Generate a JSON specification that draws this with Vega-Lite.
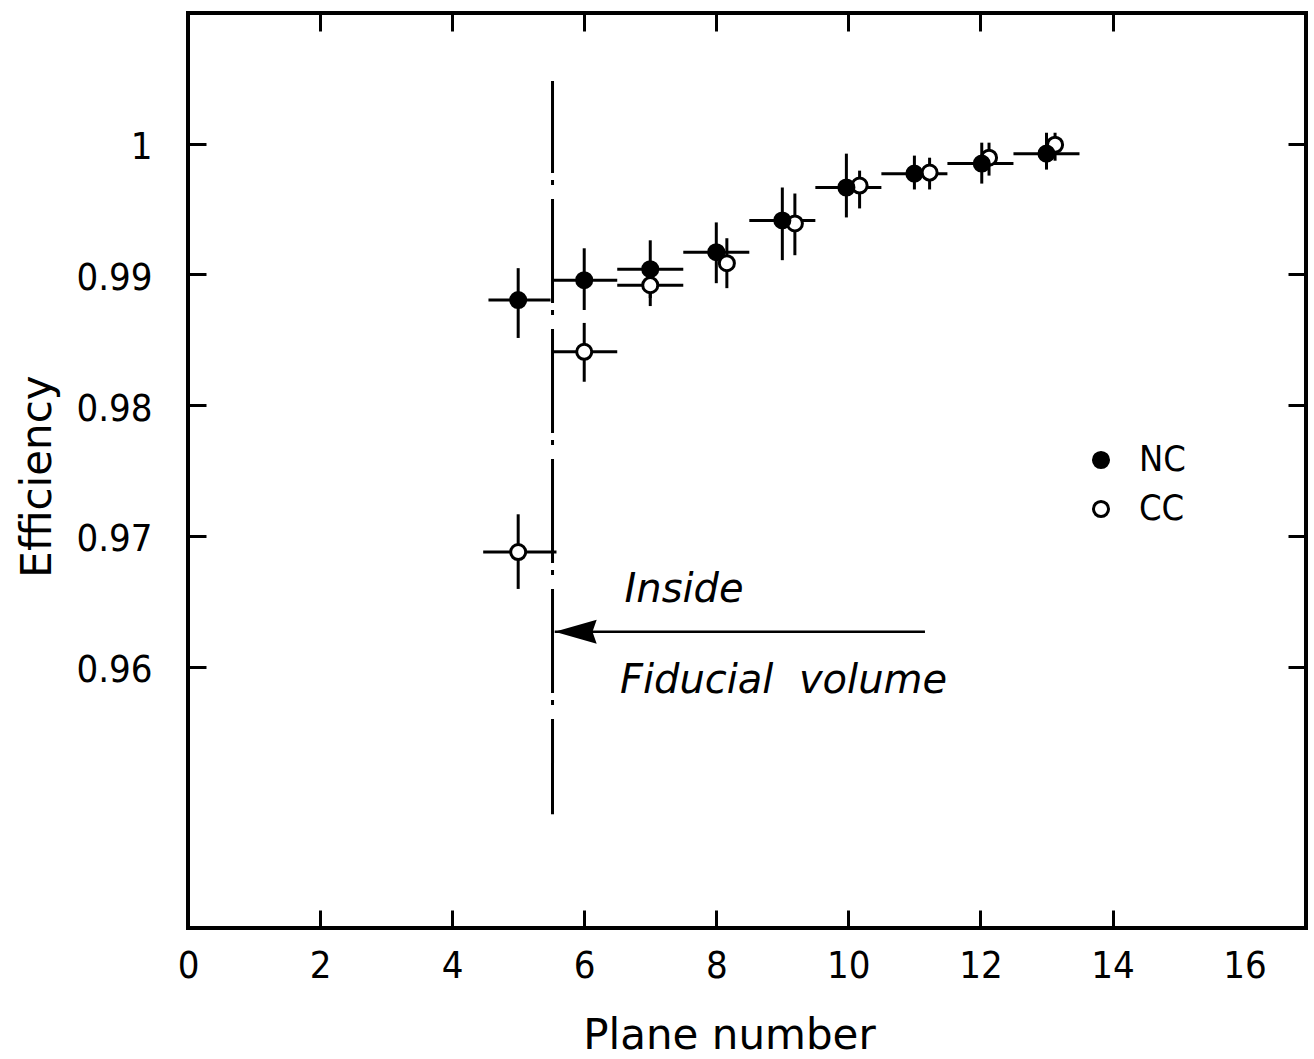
{
  "$schema": "https://vega.github.io/schema/vega-lite/v6.json",
  "width": 1118,
  "height": 915,
  "autosize": {"type": "none"},
  "padding": {"left": 188, "top": 13, "right": 8, "bottom": 131},
  "background": "white",
  "config": {
    "view": {"stroke": "black", "strokeWidth": 4},
    "axis": {
      "domain": false,
      "grid": false,
      "tickColor": "black",
      "tickWidth": 3,
      "tickSize": -18,
      "labelFont": "DejaVu Sans Condensed",
      "labelFontSize": 38,
      "labelColor": "black",
      "labelFlush": false,
      "titleFont": "DejaVu Sans",
      "titleFontSize": 42,
      "titleFontWeight": "normal",
      "titleColor": "black"
    }
  },
  "datasets": {
    "pts": [
      {"series": "CC", "plane": 5, "x": 5.0, "y": 0.96876, "ylo": 0.96594, "yhi": 0.97165, "xlo": 4.47, "xhi": 5.58},
      {"series": "CC", "plane": 6, "x": 6.0, "y": 0.98408, "ylo": 0.98179, "yhi": 0.98629, "xlo": 5.52, "xhi": 6.5},
      {"series": "CC", "plane": 7, "x": 7.0, "y": 0.98918, "ylo": 0.98758, "yhi": 0.99078, "xlo": 6.5, "xhi": 7.5},
      {"series": "CC", "plane": 8, "x": 8.16, "y": 0.99086, "ylo": 0.98895, "yhi": 0.99277, "xlo": null, "xhi": null},
      {"series": "CC", "plane": 9, "x": 9.19, "y": 0.9939, "ylo": 0.99147, "yhi": 0.99619, "xlo": null, "xhi": null},
      {"series": "CC", "plane": 10, "x": 10.17, "y": 0.9968, "ylo": 0.99505, "yhi": 0.99794, "xlo": null, "xhi": null},
      {"series": "CC", "plane": 11, "x": 11.23, "y": 0.99779, "ylo": 0.9965, "yhi": 0.99893, "xlo": null, "xhi": null},
      {"series": "CC", "plane": 12, "x": 12.13, "y": 0.99893, "ylo": 0.99756, "yhi": 1.00008, "xlo": null, "xhi": null},
      {"series": "CC", "plane": 13, "x": 13.13, "y": 0.99992, "ylo": 0.9987, "yhi": 1.00084, "xlo": null, "xhi": null},
      {"series": "NC", "plane": 5, "x": 5.0, "y": 0.98804, "ylo": 0.98514, "yhi": 0.99048, "xlo": 4.55, "xhi": 5.49},
      {"series": "NC", "plane": 6, "x": 6.0, "y": 0.98956, "ylo": 0.98728, "yhi": 0.992, "xlo": 5.52, "xhi": 6.5},
      {"series": "NC", "plane": 7, "x": 7.0, "y": 0.9904, "ylo": 0.98819, "yhi": 0.99261, "xlo": 6.5, "xhi": 7.5},
      {"series": "NC", "plane": 8, "x": 8.0, "y": 0.9917, "ylo": 0.98933, "yhi": 0.99398, "xlo": 7.5, "xhi": 8.5},
      {"series": "NC", "plane": 9, "x": 9.0, "y": 0.99413, "ylo": 0.99109, "yhi": 0.99665, "xlo": 8.5, "xhi": 9.5},
      {"series": "NC", "plane": 10, "x": 9.97, "y": 0.99665, "ylo": 0.99436, "yhi": 0.99924, "xlo": 9.5, "xhi": 10.5},
      {"series": "NC", "plane": 11, "x": 11.0, "y": 0.99771, "ylo": 0.9965, "yhi": 0.99909, "xlo": 10.5, "xhi": 11.5},
      {"series": "NC", "plane": 12, "x": 12.02, "y": 0.99848, "ylo": 0.99695, "yhi": 1.00008, "xlo": 11.5, "xhi": 12.5},
      {"series": "NC", "plane": 13, "x": 13.0, "y": 0.99924, "ylo": 0.99802, "yhi": 1.00084, "xlo": 12.5, "xhi": 13.5}
    ],
    "cut": [{"x": 5.52, "y1": 1.0048, "y2": 0.9487}],
    "arrow": [{"x1": 11.16, "x2": 5.553, "y": 0.96267}],
    "notes": [
      {"x": 6.61, "y": 0.96495, "text": "Inside"},
      {"x": 6.54, "y": 0.95794, "text": "Fiducial\u00a0 volume"}
    ]
  },
  "layer": [
    {
      "data": {"name": "pts"},
      "mark": {"type": "rule", "color": "black", "strokeWidth": 3},
      "encoding": {
        "x": {
          "field": "x", "type": "quantitative",
          "scale": {"domain": [0, 16.93], "nice": false, "zero": false},
          "axis": {
            "orient": "bottom",
            "values": [0, 2, 4, 6, 8, 10, 12, 14, 16],
            "labelPadding": 37,
            "tickOpacity": {"condition": {"test": "datum.value <= 0 || datum.value >= 16", "value": 0}, "value": 1},
            "title": "Plane number",
            "titleX": 541,
            "titleY": 120,
            "titleAlign": "center",
            "titleBaseline": "alphabetic",
            "titleAngle": 0
          }
        },
        "y": {
          "field": "ylo", "type": "quantitative",
          "scale": {"domain": [0.94, 1.01], "nice": false, "zero": false},
          "axis": {
            "orient": "left",
            "values": [0.96, 0.97, 0.98, 0.99, 1],
            "format": ".2~f",
            "labelPadding": 54,
            "labelOffset": 4,
            "title": "Efficiency",
            "titleX": -138,
            "titleY": 463,
            "titleAngle": 270,
            "titleAlign": "center",
            "titleBaseline": "alphabetic"
          }
        },
        "y2": {"field": "yhi"}
      }
    },
    {
      "data": {"name": "pts"},
      "transform": [{"filter": "isValid(datum.xlo)"}],
      "mark": {"type": "rule", "color": "black", "strokeWidth": 3},
      "encoding": {
        "x": {"field": "xlo", "type": "quantitative", "axis": null},
        "x2": {"field": "xhi"},
        "y": {"field": "y", "type": "quantitative", "axis": null}
      }
    },
    {
      "data": {"name": "pts"},
      "mark": {"type": "point", "shape": "circle", "filled": true, "stroke": "black", "strokeWidth": 3, "size": 227, "opacity": 1},
      "encoding": {
        "x": {"field": "x", "type": "quantitative", "axis": null},
        "y": {"field": "y", "type": "quantitative", "axis": null},
        "fill": {
          "field": "series", "type": "nominal",
          "scale": {"domain": ["NC", "CC"], "range": ["black", "white"]},
          "legend": {
            "title": null,
            "orient": "none",
            "legendX": 895,
            "legendY": 429,
            "symbolType": "circle",
            "symbolSize": 227,
            "symbolStrokeColor": "black",
            "symbolStrokeWidth": 3,
            "symbolOpacity": 1,
            "labelFont": "DejaVu Sans Condensed",
            "labelFontSize": 36,
            "labelColor": "black",
            "labelOffset": 20,
            "rowPadding": 13
          }
        }
      }
    },
    {
      "data": {"name": "cut"},
      "mark": {"type": "rule", "color": "black", "strokeWidth": 3, "strokeDash": [104, 7, 5, 14], "strokeDashOffset": 12},
      "encoding": {
        "x": {"field": "x", "type": "quantitative", "axis": null},
        "y": {"field": "y1", "type": "quantitative", "axis": null},
        "y2": {"field": "y2"}
      }
    },
    {
      "data": {"name": "arrow"},
      "mark": {"type": "rule", "color": "black", "strokeWidth": 2.5},
      "encoding": {
        "x": {"field": "x1", "type": "quantitative", "axis": null},
        "x2": {"field": "x2"},
        "y": {"field": "y", "type": "quantitative", "axis": null}
      }
    },
    {
      "data": {"name": "arrow"},
      "mark": {"type": "point", "shape": "M 0 0 L 2 -0.57 L 1.8 0 L 2 0.57 Z", "size": 1764, "filled": true, "color": "black", "opacity": 1, "strokeWidth": 0},
      "encoding": {
        "x": {"field": "x2", "type": "quantitative", "axis": null},
        "y": {"field": "y", "type": "quantitative", "axis": null}
      }
    },
    {
      "data": {"name": "notes"},
      "mark": {"type": "text", "font": "DejaVu Sans", "fontStyle": "italic", "fontSize": 40, "align": "left", "baseline": "alphabetic", "color": "black"},
      "encoding": {
        "x": {"field": "x", "type": "quantitative", "axis": null},
        "y": {"field": "y", "type": "quantitative", "axis": null},
        "text": {"field": "text"}
      }
    },
    {
      "data": {"name": "pts"},
      "mark": {"type": "point", "opacity": 0},
      "encoding": {
        "x": {
          "field": "x", "type": "quantitative",
          "scale": {"domain": [0, 16.93], "nice": false, "zero": false},
          "axis": {"orient": "top", "values": [2, 4, 6, 8, 10, 12, 14], "labels": false, "title": null}
        },
        "y": {
          "field": "y", "type": "quantitative",
          "scale": {"domain": [0.94, 1.01], "nice": false, "zero": false},
          "axis": {"orient": "right", "values": [0.96, 0.97, 0.98, 0.99, 1], "labels": false, "title": null}
        }
      }
    }
  ],
  "resolve": {"axis": {"x": "independent", "y": "independent"}}
}
